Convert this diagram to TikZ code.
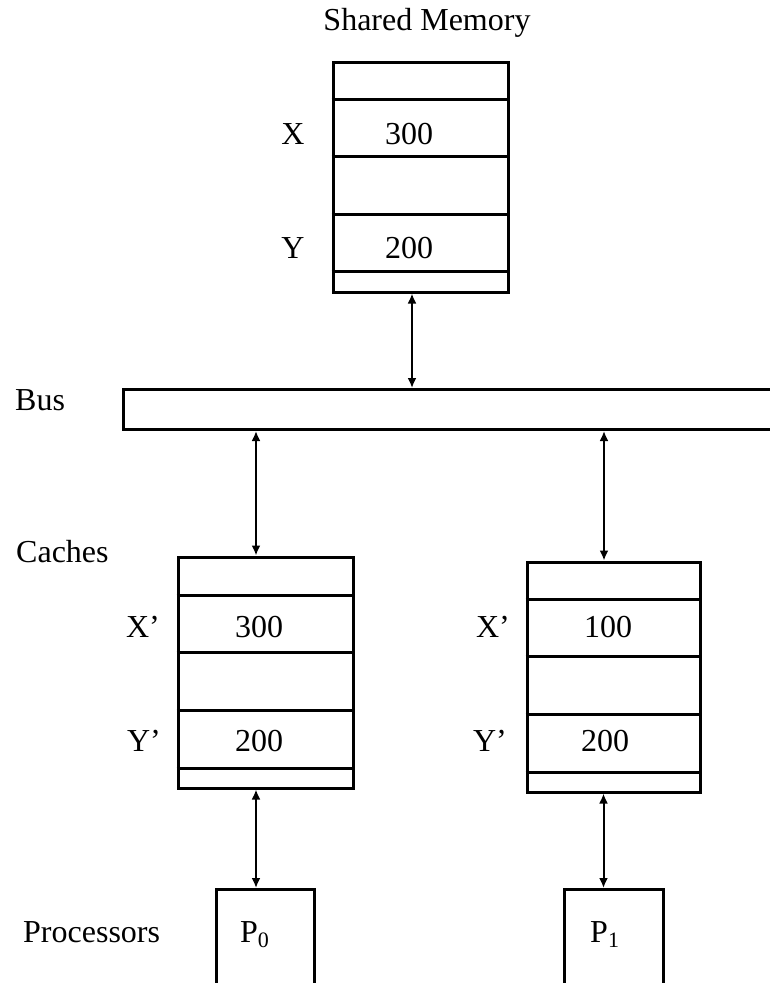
\documentclass[tikz,border=0pt]{standalone}
\usepackage{fontspec}
\setmainfont{Liberation Serif}
\usetikzlibrary{arrows.meta}
\begin{document}
\begin{tikzpicture}[x=1pt,y=-1pt,
  every node/.style={font=\fontsize{32}{38}\selectfont, inner sep=0pt},
  box/.style={draw, line width=3pt, rectangle, inner sep=0pt},
  divider/.style={line width=3pt},
  link/.style={line width=2pt, {Latex[length=10pt,width=9pt]}-{Latex[length=10pt,width=9pt]}},
  lbl/.style={anchor=base west}]
\useasboundingbox (0,0) rectangle (770,983);
\clip (0,0) rectangle (770,983);

% shared memory with its four row dividers
\node[box, minimum width=175pt, minimum height=230pt] (mem) at (420.5,177) {};
\foreach \d in {39,96,154,211} \draw[divider] (mem.north west) ++(0,\d) -- ++(175,0);

% bus, running off the right edge
\node[box, minimum width=700pt, minimum height=40pt, anchor=north west] (bus) at (122,388) {};

% caches
\node[box, minimum width=175pt, minimum height=231pt] (c0) at (265.5,672.5) {};
\foreach \d in {40,97,155,213} \draw[divider] (c0.north west) ++(0,\d) -- ++(175,0);
\node[box, minimum width=173pt, minimum height=230pt] (c1) at (613.5,677) {};
\foreach \d in {39,96,154,212} \draw[divider] (c1.north west) ++(0,\d) -- ++(173,0);

% processors, cut by the lower edge
\node[box, minimum width=98pt, minimum height=130pt, anchor=north] (p0) at (265,888) {};
\node[box, minimum width=99pt, minimum height=130pt, anchor=north] (p1) at (613.5,888) {};

% links
\coordinate (am) at ([xshift=-8.5pt]mem.south);
\draw[link] (am) -- (am |- bus.north);
\coordinate (a0) at ([xshift=-9.5pt]c0.north);
\draw[link] (a0 |- bus.south) -- (a0);
\coordinate (a1) at ([xshift=-9.5pt]c1.north);
\draw[link] (a1 |- bus.south) -- (a1);
\coordinate (b0) at ([xshift=-9pt]p0.north);
\draw[link] (b0 |- c0.south) -- (b0);
\coordinate (b1) at ([xshift=-10pt]p1.north);
\draw[link] (b1 |- c1.south) -- (b1);

% captions
\node[anchor=base] (memlbl) at (427,30) {Shared Memory};
\node[lbl] (buslbl) at (15,410) {Bus};
\node[lbl] (cachelbl) at (16,562) {Caches};
\node[lbl] (proclbl) at (23,942) {Processors};

% memory contents
\node (mx) at (293,134) {X};
\node (mxv) at (409,134) {300};
\node (my) at (293,248) {Y};
\node (myv) at (409,248) {200};

% cache 0 contents
\node (c0x) at (143,627) {X’};
\node (c0xv) at (259,627) {300};
\node (c0y) at (144,741) {Y’};
\node (c0yv) at (259,741) {200};

% cache 1 contents
\node (c1x) at (493,627) {X’};
\node (c1xv) at (608,627) {100};
\node (c1y) at (490,741) {Y’};
\node (c1yv) at (605,741) {200};

% processor names
\node[lbl] (p0t) at (240,942) {P\raisebox{-5pt}{\fontsize{22}{26}\selectfont 0}};
\node[lbl] (p1t) at (590,942) {P\raisebox{-5pt}{\fontsize{22}{26}\selectfont 1}};
\end{tikzpicture}
\end{document}
